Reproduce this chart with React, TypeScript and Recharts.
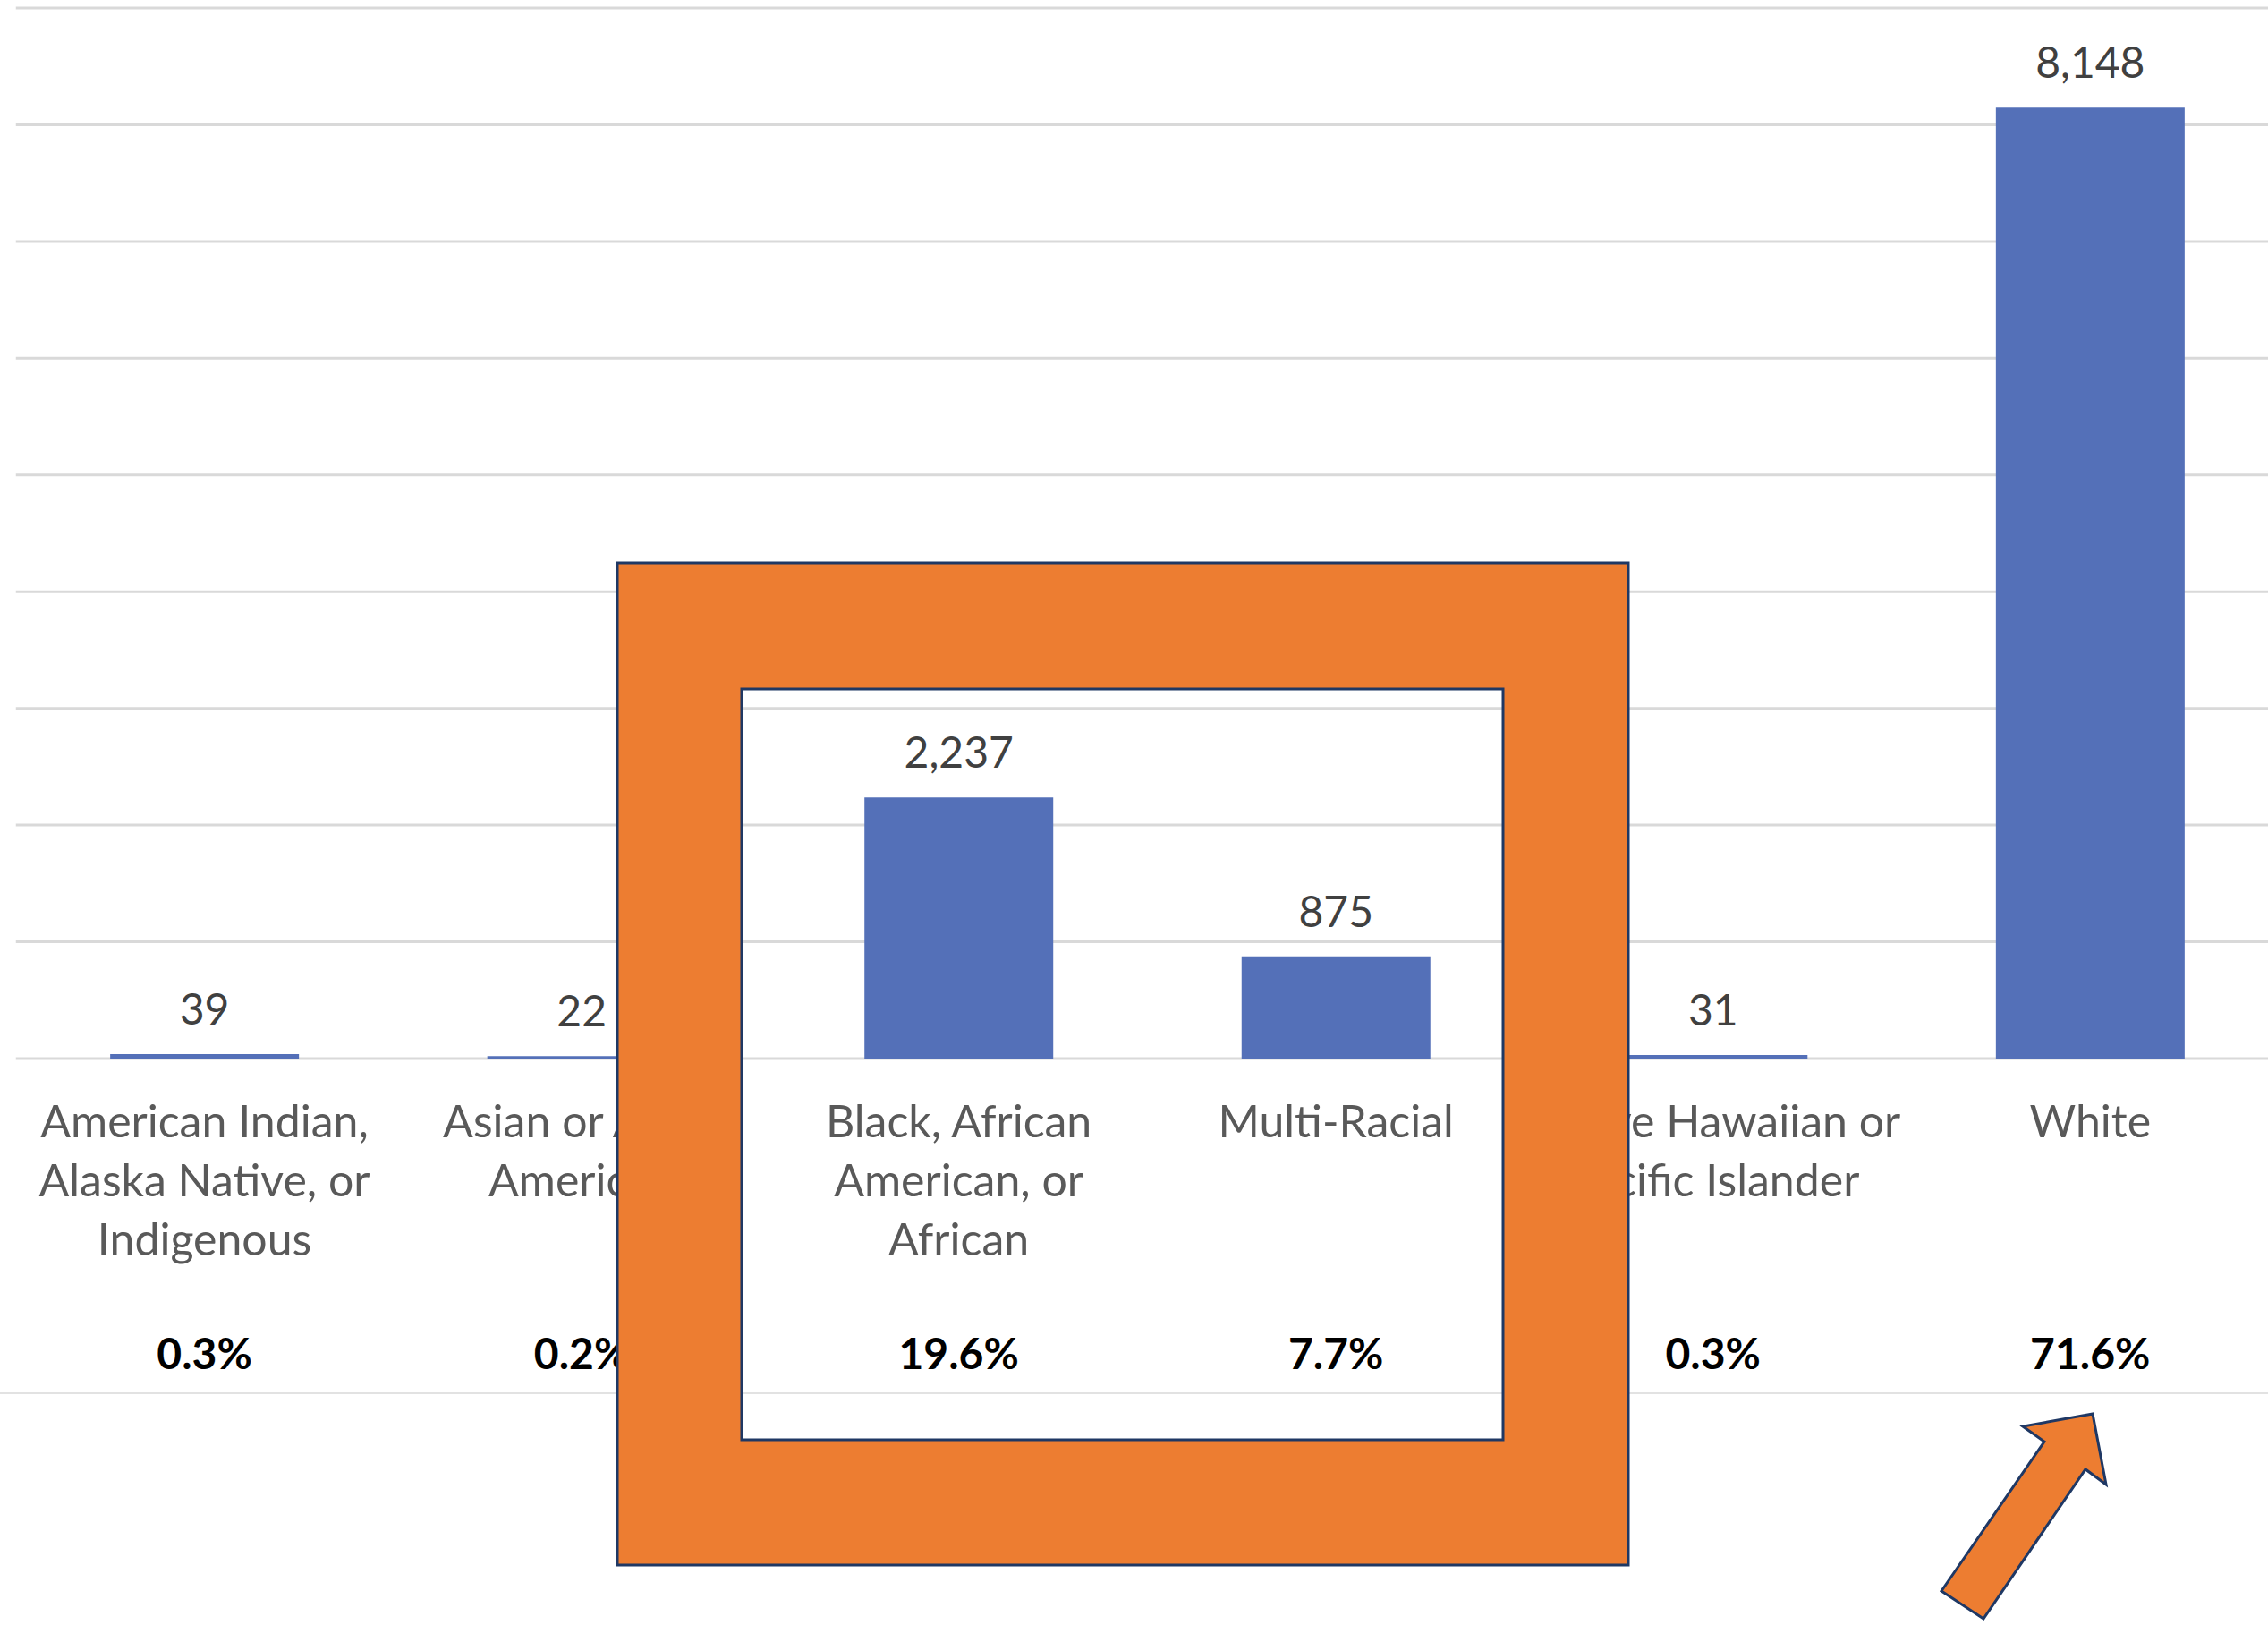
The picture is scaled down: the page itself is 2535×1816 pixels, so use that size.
import React from "react";
import { BarChart, Bar, XAxis, YAxis, CartesianGrid, LabelList } from "recharts";

const categories = [
  "American Indian, Alaska Native, or Indigenous",
  "Asian or Asian American",
  "Black, African American, or African",
  "Multi-Racial",
  "Native Hawaiian or Pacific Islander",
  "White",
];
const categoryLines = [
  ["American Indian,", "Alaska Native, or", "Indigenous"],
  ["Asian or Asian", "American"],
  ["Black, African", "American, or", "African"],
  ["Multi-Racial"],
  ["Native Hawaiian or", "Pacific Islander"],
  ["White"],
];
const counts = [39, 22, 2237, 875, 31, 8148];
const percents = ["0.3%", "0.2%", "19.6%", "7.7%", "0.3%", "71.6%"];
const yTicks = [0, 1000, 2000, 3000, 4000, 5000, 6000, 7000, 8000, 9000];

const data = categories.map((c, i) => ({ category: c, count: counts[i] }));

const FONT = "Lato, 'Noto Sans', sans-serif";

const CategoryTick = (props: any) => {
  const { x, y, index } = props;
  const lines = categoryLines[index] ?? [];
  return (
    <g>
      {lines.map((ln: string, i: number) => (
        <text
          key={i}
          x={x}
          y={y + 88 + i * 66}
          textAnchor="middle"
          fill="#595959"
          fontSize={50}
          fontFamily={FONT}
        >
          {ln}
        </text>
      ))}
      <text
        x={x}
        y={y + 347}
        textAnchor="middle"
        fill="#000000"
        fontWeight={700}
        fontSize={48}
        fontFamily={FONT}
      >
        {percents[index]}
      </text>
    </g>
  );
};

export default function App() {
  return (
    <div
      style={{
        position: "absolute",
        left: 0,
        top: 0,
        width: 2535,
        height: 1816,
        overflow: "hidden",
        background: "#ffffff",
      }}
    >
      <BarChart
        width={2547}
        height={1816}
        data={data}
        margin={{ top: 9, right: 0, bottom: 0, left: 17.75 }}
        barCategoryGap="25%"
      >
        <CartesianGrid vertical={false} stroke="#d9d9d9" strokeWidth={3} />
        <YAxis hide width={0} domain={[0, 9000]} ticks={yTicks} />
        <XAxis
          dataKey="category"
          height={633}
          axisLine={false}
          tickLine={false}
          tickSize={0}
          tickMargin={0}
          interval={0}
          tick={<CategoryTick />}
        />
        <Bar dataKey="count" fill="#5470b8" isAnimationActive={false}>
          <LabelList
            dataKey="count"
            position="top"
            offset={33}
            fill="#404040"
            fontSize={48}
            fontFamily={FONT}
            formatter={(v: any) => Number(v).toLocaleString("en-US")}
          />
        </Bar>
      </BarChart>
      <svg
        width={2535}
        height={1816}
        style={{ position: "absolute", left: 0, top: 0, pointerEvents: "none" }}
      >
        <line x1={0} y1={1557} x2={2535} y2={1557} stroke="#e2e2e2" strokeWidth={2} />
        <path
          d="M690 629 H1820 V1749 H690 Z M829 770 H1680 V1609 H829 Z"
          fill="#ed7d31"
          fillRule="evenodd"
          stroke="#1f3864"
          strokeWidth={3}
        />
        <polygon
          points="2170,1778 2217,1809 2331,1642 2354,1659 2339,1580 2261,1594 2285,1611"
          fill="#ed7d31"
          stroke="#1f3864"
          strokeWidth={3}
          strokeLinejoin="miter"
        />
      </svg>
    </div>
  );
}
